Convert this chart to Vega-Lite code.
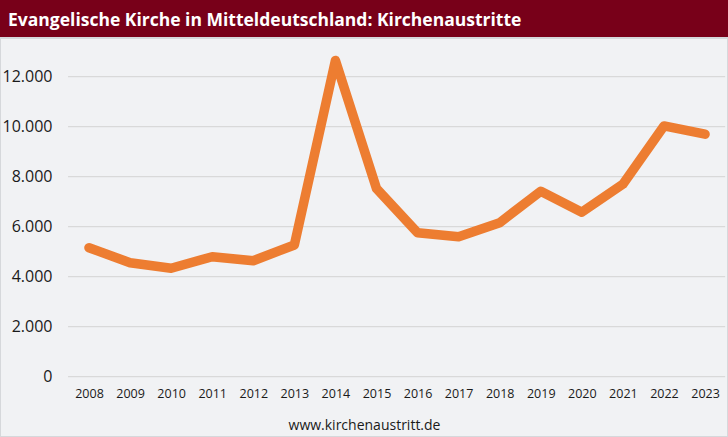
{
  "$schema": "https://vega.github.io/schema/vega-lite/v6.json",
  "autosize": "none",
  "width": 728,
  "height": 399,
  "padding": {"left": 0, "top": 38, "right": 0, "bottom": 0},
  "background": "#780019",
  "view": {"fill": "#F1F2F4", "stroke": "#D6D8DB", "strokeWidth": 2},
  "config": {"font": "Open Sans"},
  "title": {
    "text": "Evangelische Kirche in Mitteldeutschland: Kirchenaustritte",
    "anchor": "start", "frame": "group", "orient": "top",
    "offset": 0, "baseline": "middle", "dx": 8,
    "color": "#FFFFFF", "font": "Open Sans", "fontSize": 17.5, "fontWeight": "bold"
  },
  "datasets": {
    "austritte": [
      {"year": 2008, "austritte": 5160},
      {"year": 2009, "austritte": 4560},
      {"year": 2010, "austritte": 4340},
      {"year": 2011, "austritte": 4800},
      {"year": 2012, "austritte": 4640},
      {"year": 2013, "austritte": 5270},
      {"year": 2014, "austritte": 12650},
      {"year": 2015, "austritte": 7530},
      {"year": 2016, "austritte": 5760},
      {"year": 2017, "austritte": 5600},
      {"year": 2018, "austritte": 6160},
      {"year": 2019, "austritte": 7420},
      {"year": 2020, "austritte": 6580},
      {"year": 2021, "austritte": 7700},
      {"year": 2022, "austritte": 10030},
      {"year": 2023, "austritte": 9700}
    ],
    "gridlines": [
      {"v": 0}, {"v": 2000}, {"v": 4000}, {"v": 6000}, {"v": 8000}, {"v": 10000}, {"v": 12000}
    ]
  },
  "layer": [
    {
      "data": {"name": "gridlines"},
      "mark": {"type": "rule", "color": "#D9D9D9", "strokeWidth": 1.2},
      "encoding": {
        "y": {
          "field": "v", "type": "quantitative",
          "scale": {"domain": [-2412, 13548], "nice": false, "zero": false},
          "axis": {
            "orient": "left", "offset": -68,
            "title": null,
            "values": [0, 2000, 4000, 6000, 8000, 10000, 12000],
            "labelExpr": "replace(format(datum.value, ','), ',', '.')",
            "labelFont": "Open Sans", "labelFontSize": 16, "labelColor": "#1A1A1A", "labelPadding": 16,
            "labelFlush": false, "labelOverlap": false,
            "domain": false, "ticks": false, "grid": false
          }
        },
        "x": {
          "datum": 2007.49, "type": "quantitative",
          "scale": {"domain": [2005.833, 2023.559], "nice": false, "zero": false},
          "axis": {
            "orient": "bottom", "offset": -60.3,
            "values": [2008, 2009, 2010, 2011, 2012, 2013, 2014, 2015, 2016, 2017, 2018, 2019, 2020, 2021, 2022, 2023],
            "format": "d",
            "title": "www.kirchenaustritt.de",
            "titleFont": "Open Sans", "titleFontSize": 14, "titleFontWeight": "normal", "titleColor": "#1A1A1A",
            "titleX": 364, "titleY": 48.3, "titleAlign": "center", "titleBaseline": "middle", "titleAnchor": null,
            "labelAngle": 0, "labelFont": "Open Sans", "labelFontSize": 12.5, "labelColor": "#1A1A1A", "labelPadding": 11,
            "labelFlush": false, "labelOverlap": false,
            "domain": false, "ticks": false, "grid": false
          }
        },
        "x2": {"datum": 2023.49}
      }
    },
    {
      "data": {"name": "austritte"},
      "mark": {"type": "line", "color": "#ED7D31", "strokeWidth": 9.5, "strokeCap": "round", "strokeJoin": "round"},
      "encoding": {
        "x": {
          "field": "year", "type": "quantitative",
          "scale": {"domain": [2005.833, 2023.559], "nice": false, "zero": false},
          "axis": {
            "orient": "bottom", "offset": -60.3,
            "values": [2008, 2009, 2010, 2011, 2012, 2013, 2014, 2015, 2016, 2017, 2018, 2019, 2020, 2021, 2022, 2023],
            "format": "d",
            "title": "www.kirchenaustritt.de",
            "titleFont": "Open Sans", "titleFontSize": 14, "titleFontWeight": "normal", "titleColor": "#1A1A1A",
            "titleX": 364, "titleY": 48.3, "titleAlign": "center", "titleBaseline": "middle", "titleAnchor": null,
            "labelAngle": 0, "labelFont": "Open Sans", "labelFontSize": 12.5, "labelColor": "#1A1A1A", "labelPadding": 11,
            "labelFlush": false, "labelOverlap": false,
            "domain": false, "ticks": false, "grid": false
          }
        },
        "y": {
          "field": "austritte", "type": "quantitative",
          "scale": {"domain": [-2412, 13548], "nice": false, "zero": false},
          "axis": {
            "orient": "left", "offset": -68,
            "title": null,
            "values": [0, 2000, 4000, 6000, 8000, 10000, 12000],
            "labelExpr": "replace(format(datum.value, ','), ',', '.')",
            "labelFont": "Open Sans", "labelFontSize": 16, "labelColor": "#1A1A1A", "labelPadding": 16,
            "labelFlush": false, "labelOverlap": false,
            "domain": false, "ticks": false, "grid": false
          }
        }
      }
    }
  ]
}
